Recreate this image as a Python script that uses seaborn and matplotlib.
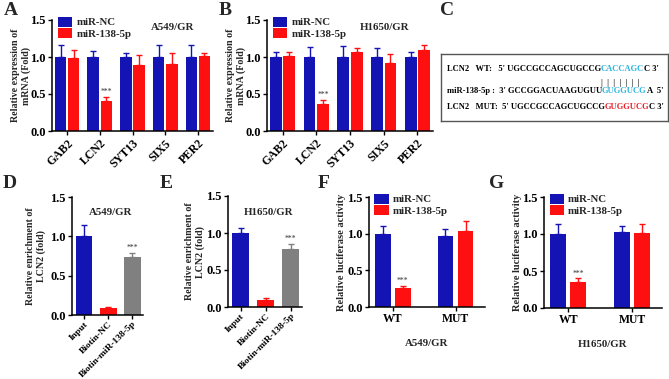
import numpy as np
import pandas as pd
import seaborn as sns
import matplotlib
matplotlib.use("Agg")
import matplotlib.pyplot as plt
from matplotlib.offsetbox import TextArea, HPacker, AnnotationBbox
from matplotlib.patches import Patch

# ---------------- data ----------------
genes = ["GAB2", "LCN2", "SYT13", "SIX5", "PER2"]
groups = ["miR-NC", "miR-138-5p"]

a_nc = [1.00, 1.00, 1.00, 1.00, 1.00]
a_nc_err = [0.16, 0.08, 0.05, 0.16, 0.16]
a_mir = [0.99, 0.41, 0.89, 0.90, 1.01]
a_mir_err = [0.10, 0.05, 0.14, 0.16, 0.04]

b_nc = [1.00, 1.00, 1.00, 1.00, 1.00]
b_nc_err = [0.07, 0.13, 0.15, 0.12, 0.07]
b_mir = [1.02, 0.37, 1.07, 0.92, 1.09]
b_mir_err = [0.05, 0.05, 0.05, 0.12, 0.07]

pull_cats = ["Input", "Biotin-NC", "Biotin-miR-138-5p"]
d_vals = [1.00, 0.09, 0.74]
d_err = [0.14, 0.01, 0.05]
e_vals = [1.00, 0.10, 0.79]
e_err = [0.07, 0.02, 0.06]

luc_cats = ["WT", "MUT"]
f_nc = [1.00, 0.97]
f_nc_err = [0.10, 0.10]
f_mir = [0.26, 1.04]
f_mir_err = [0.03, 0.13]
g_nc = [1.00, 1.03]
g_nc_err = [0.13, 0.08]
g_mir = [0.35, 1.01]
g_mir_err = [0.05, 0.13]

yticks = [0.0, 0.5, 1.0, 1.5]

BLUE = "#1414B4"
RED = "#FF1010"
GRAY = "#808080"
CYAN = "#2CB5E0"
SEQRED = "#E8202A"

sns.set_theme(style="ticks")
plt.rcParams["font.family"] = ["Liberation Serif", "DejaVu Serif"]
plt.rcParams["font.weight"] = "bold"
plt.rcParams["axes.labelweight"] = "bold"

W, H = 669, 379
fig = plt.figure(figsize=(W / 100, H / 100), dpi=100)


def add_ax(l, r, t, b):
    return fig.add_axes([l / W, 1 - b / H, (r - l) / W, (b - t) / H])


def style_ax(ax, ylabel, lab_x, rot=True, lab=7.2, xsize=8.5):
    ax.set_ylim(0, 1.5)
    ax.set_yticks(yticks)
    ax.set_yticklabels([f"{v:.1f}" for v in yticks])
    for s in ["top", "right"]:
        ax.spines[s].set_visible(False)
    for s in ["left", "bottom"]:
        ax.spines[s].set_linewidth(1.1)
        ax.spines[s].set_color("black")
    ax.tick_params(axis="both", length=3, width=1.0, pad=1.5,
                   colors="black", direction="out")
    ax.tick_params(axis="y", labelsize=9)
    ax.tick_params(axis="x", labelsize=xsize)
    ax.set_ylabel(ylabel, fontsize=lab, fontweight="bold")
    ax.yaxis.set_label_coords(lab_x, 0.5)
    ax.set_xlabel("")
    for t in ax.get_xticklabels() + ax.get_yticklabels():
        t.set_fontweight("bold")
    if rot:
        for t in ax.get_xticklabels():
            t.set_rotation(45)
            t.set_ha("right")
            t.set_rotation_mode("anchor")


def add_errs(ax, vals_by_patch, errs_by_patch, colors, stars=None):
    bars = list(ax.patches)[: len(vals_by_patch)]
    for i, (p, e, c) in enumerate(zip(bars, errs_by_patch, colors)):
        x = p.get_x() + p.get_width() / 2
        y = p.get_height()
        ax.errorbar([x], [y], yerr=[[0], [e]], fmt="none", ecolor=c,
                    elinewidth=1.0, capsize=2.5, capthick=1.0)
        if stars is not None and stars[i]:
            ax.text(x, y + e + 0.01, "***", ha="center", va="bottom",
                    fontsize=5.5, color="#333333", fontweight="normal")


def grouped(ax, cats, nc, mir, width, gap):
    df = pd.DataFrame({
        "cat": cats * 2,
        "grp": [groups[0]] * len(cats) + [groups[1]] * len(cats),
        "val": list(nc) + list(mir),
    })
    sns.barplot(data=df, x="cat", y="val", hue="grp", palette=[BLUE, RED],
                errorbar=None, width=width, gap=gap, ax=ax, legend=False,
                saturation=1, linewidth=0)


def legend(ax, anchor):
    handles = [Patch(facecolor=BLUE, edgecolor="none", label=groups[0]),
               Patch(facecolor=RED, edgecolor="none", label=groups[1])]
    ax.legend(handles=handles, loc="upper left", bbox_to_anchor=anchor,
              frameon=False, handlelength=1.3, handleheight=1.05,
              handletextpad=0.4, labelspacing=0.1, borderaxespad=0,
              prop={"weight": "bold", "size": 7.8})


# ---------------- Panel A ----------------
axA = add_ax(52, 213, 20, 131)
grouped(axA, genes, a_nc, a_mir, 0.8, 0.12)
axA.set_xlim(-0.46, 4.46)
add_errs(axA, a_nc + a_mir, a_nc_err + a_mir_err, [BLUE] * 5 + [RED] * 5,
         stars=[0] * 5 + [0, 1, 0, 0, 0])
style_ax(axA, "Relative expression of\nmRNA (Fold)", -0.13)
legend(axA, (0.01, 1.07))
axA.text(0.75, 0.93, "A549/GR", transform=axA.transAxes, ha="center",
         va="center", fontsize=7.8, fontweight="bold")

# ---------------- Panel B ----------------
axB = add_ax(267, 433, 20, 131)
grouped(axB, genes, b_nc, b_mir, 0.8, 0.12)
axB.set_xlim(-0.46, 4.46)
add_errs(axB, b_nc + b_mir, b_nc_err + b_mir_err, [BLUE] * 5 + [RED] * 5,
         stars=[0] * 5 + [0, 1, 0, 0, 0])
style_ax(axB, "Relative expression of\nmRNA (Fold)", -0.125)
legend(axB, (0.01, 1.07))
axB.text(0.71, 0.93, "H1650/GR", transform=axB.transAxes, ha="center",
         va="center", fontsize=7.8, fontweight="bold")

# ---------------- Panel C ----------------
axC = add_ax(441, 668, 54, 121)
axC.set_xticks([])
axC.set_yticks([])
for s in axC.spines.values():
    s.set_visible(True)
    s.set_linewidth(1.0)
    s.set_color("#555555")
axC.set_facecolor("white")

seq_fs = 6.1


def seq_row(parts, y):
    boxes = [TextArea(t, textprops=dict(color=c, fontsize=seq_fs,
                                         fontweight="bold",
                                         family=["Liberation Serif"]))
             for t, c in parts]
    pack = HPacker(children=boxes, align="baseline", pad=0, sep=0)
    ab = AnnotationBbox(pack, (0.025, y), xycoords="axes fraction",
                        box_alignment=(0, 0.5), frameon=False, pad=0)
    axC.add_artist(ab)


seq_row([("LCN2   WT:   5' UGCCGCCAGCUGCCG", "black"),
         ("CACCAGC", CYAN), ("C 3'", "black")], 0.78)
seq_row([("LCN2   WT:   5' UGCCGCCAGCUGCCG", "none"),
         ("|  |  |  |  |  |  |", "#333333")], 0.57)
seq_row([("miR-138-5p :  3' GCCGGACUAAGUGUU", "black"),
         ("GUGGUCG", CYAN), ("A  5'", "black")], 0.45)
seq_row([("LCN2   MUT:  5' UGCCGCCAGCUGCCG", "black"),
         ("GUGGUCG", SEQRED), ("C 3'", "black")], 0.21)


# ---------------- Panel D / E ----------------
def pull(ax, cats, vals, errs, title, lab_x, ty):
    df = pd.DataFrame({"cat": cats, "val": vals})
    sns.barplot(data=df, x="cat", y="val", hue="cat",
                palette=[BLUE, RED, GRAY], errorbar=None, width=0.7,
                ax=ax, legend=False, saturation=1, linewidth=0)
    ax.set_xlim(-0.5, 2.45)
    add_errs(ax, vals, errs, [BLUE, RED, GRAY], stars=[0, 0, 1])
    style_ax(ax, "Relative enrichment of\nLCN2 (fold)", lab_x, xsize=6.8)
    ax.tick_params(axis="x", pad=0.5)
    ax.text(0.55, ty, title, transform=ax.transAxes, ha="center",
            va="center", fontsize=7.8, fontweight="bold")


axD = add_ax(72, 143, 197, 315)
pull(axD, pull_cats, d_vals, d_err, "A549/GR", -0.37, 0.87)
axE = add_ax(228, 302, 196, 307)
pull(axE, pull_cats, e_vals, e_err, "H1650/GR", -0.31, 0.85)


# ---------------- Panel F / G ----------------
def luc(ax, nc, nce, mir, mire, title, lab_x):
    grouped(ax, luc_cats, nc, mir, 0.64, 0.22)
    ax.set_xlim(-0.38, 1.47)
    add_errs(ax, nc + mir, nce + mire, [BLUE] * 2 + [RED] * 2,
             stars=[0, 0, 1, 0])
    style_ax(ax, "Relative luciferase activity", lab_x, rot=False, lab=7.5)
    legend(ax, (0.01, 1.07))
    ax.set_xlabel(title, fontsize=7.8, fontweight="bold", labelpad=10)


axF = add_ax(369, 485, 197, 307)
luc(axF, f_nc, f_nc_err, f_mir, f_mir_err, "A549/GR", -0.195)
axG = add_ax(544, 662, 197, 308)
luc(axG, g_nc, g_nc_err, g_mir, g_mir_err, "H1650/GR", -0.19)

# ---------------- panel letters ----------------
letters = [("A", 4, 2), ("B", 219, 2), ("C", 440, 2), ("D", 3, 175),
           ("E", 160, 175), ("F", 318, 175), ("G", 489, 175)]
for t, x, y in letters:
    fig.text(x / W, 1 - y / H, t, ha="left", va="top", fontsize=14,
             fontweight="bold")

fig.savefig("out.png", dpi=100)
